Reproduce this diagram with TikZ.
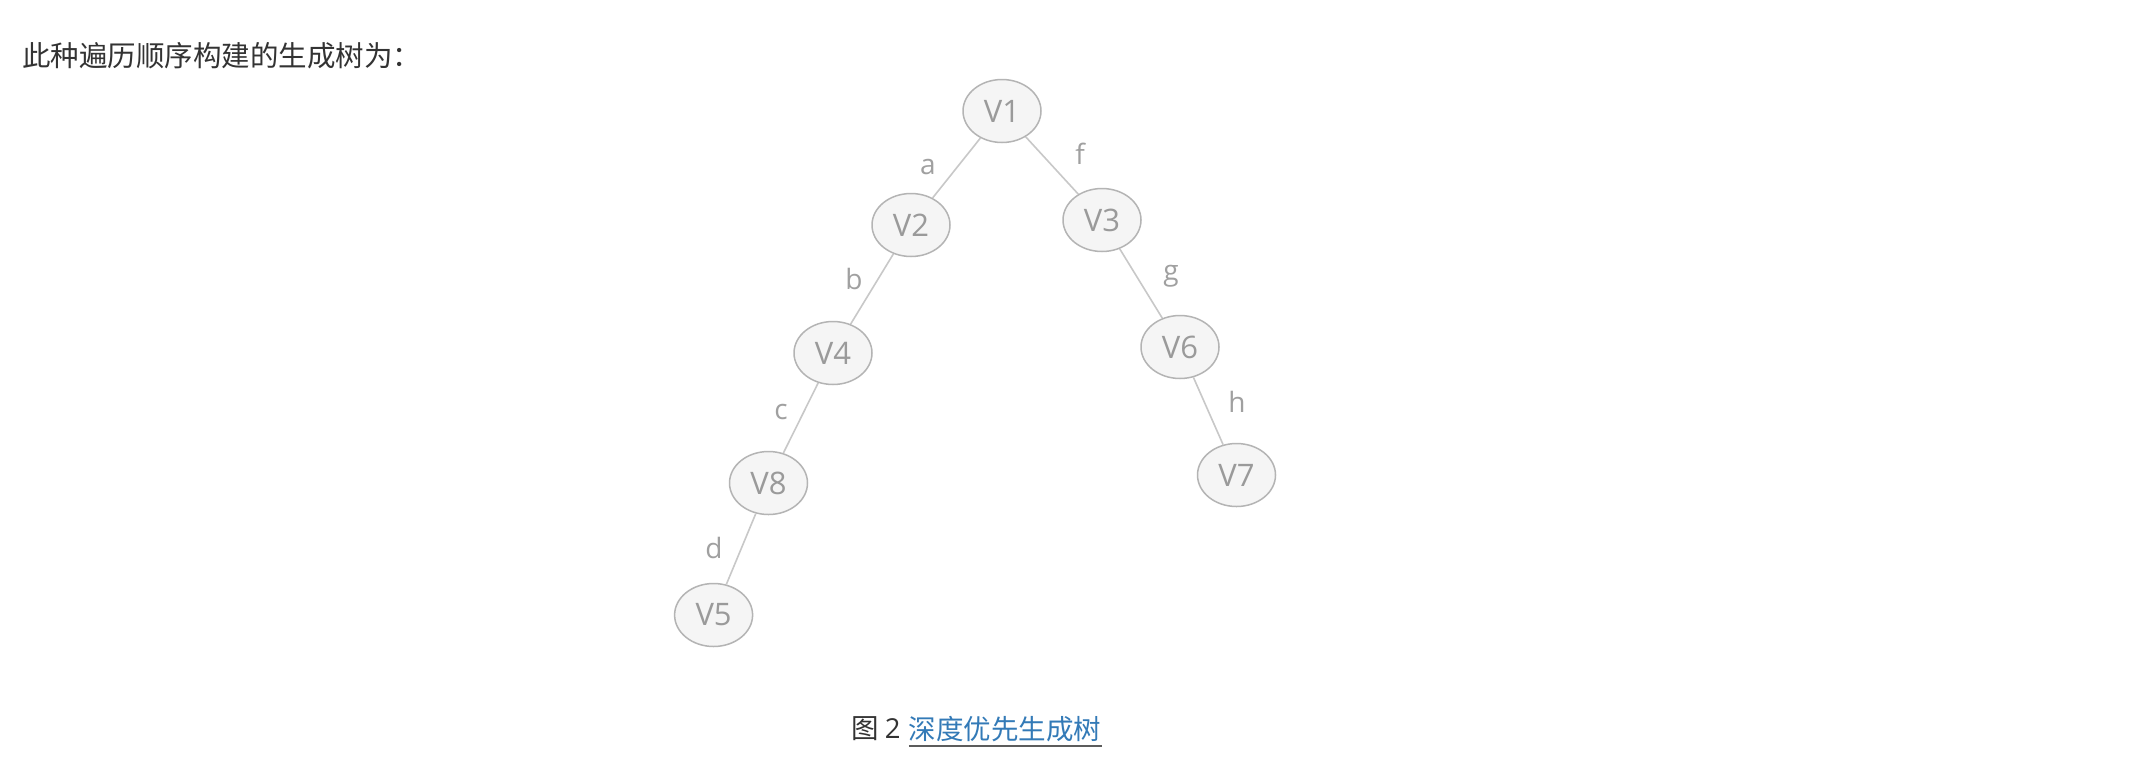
\documentclass[tikz,border=0pt]{standalone}
\usepackage{fontspec}
\setmainfont{Open Sans}
\newfontfamily\cjk{Noto Sans CJK SC}
\usetikzlibrary{shapes.geometric}
\definecolor{edgecol}{HTML}{C8C8C8}
\definecolor{nodedraw}{HTML}{B4B4B4}
\definecolor{nodefill}{HTML}{F5F5F5}
\definecolor{nodetext}{HTML}{9A9A9A}
\definecolor{labeltext}{HTML}{A0A0A0}
\definecolor{bodytext}{HTML}{333333}
\definecolor{linkcol}{HTML}{337AB7}
\tikzset{
  vert/.style={ellipse, draw=nodedraw, fill=nodefill, line width=1.5pt,
    minimum width=78pt, minimum height=63pt, inner sep=0pt,
    text=nodetext, font=\fontsize{31}{31}\selectfont},
  treeedge/.style={draw=edgecol, line width=1.6pt},
  elabel/.style={text=labeltext, font=\fontsize{28}{28}\selectfont, inner sep=0pt},
  cjktext/.style={font=\cjk\fontsize{27.5}{27.5}\selectfont, inner sep=0pt}
}
\begin{document}
\begin{tikzpicture}[x=1pt,y=-1pt]
\useasboundingbox[fill=white] (0,0) rectangle (2152,764);
\node[cjktext, font=\cjk\fontsize{28.5}{28.5}\selectfont, text=bodytext, anchor=west] (intro) at (22,56) {此种遍历顺序构建的生成树为：};

\node[vert] (v1) at (1002,111) {V1};
\node[vert] (v2) at (911,225) {V2};
\node[vert] (v3) at (1102,220) {V3};
\node[vert] (v4) at (833,353) {V4};
\node[vert] (v6) at (1180,347) {V6};
\node[vert] (v8) at (768.5,483) {V8};
\node[vert] (v7) at (1236.5,475) {V7};
\node[vert] (v5) at (713.6,615) {V5};

\draw[treeedge] (v1) -- (v2);
\draw[treeedge] (v1) -- (v3);
\draw[treeedge] (v2) -- (v4);
\draw[treeedge] (v3) -- (v6);
\draw[treeedge] (v4) -- (v8);
\draw[treeedge] (v6) -- (v7);
\draw[treeedge] (v8) -- (v5);

\node[elabel] (la) at (928,167) {a};
\node[elabel] (lf) at (1080,154) {f};
\node[elabel] (lb) at (854,279) {b};
\node[elabel] (lg) at (1171,276) {g};
\node[elabel] (lc) at (781,412) {c};
\node[elabel] (lh) at (1237,402) {h};
\node[elabel] (ld) at (714,548) {d};

\node[cjktext, text=bodytext, anchor=west] (cap) at (851,729) {图 {\fontspec{Open Sans}2}};
\node[cjktext, text=linkcol, anchor=west] (link) at ([xshift=8pt]cap.east) {深度优先生成树};
\draw[draw=bodytext!80, line width=1.5pt] ([yshift=-4pt]link.south west) -- ([yshift=-4pt]link.south east);
\end{tikzpicture}
\end{document}
